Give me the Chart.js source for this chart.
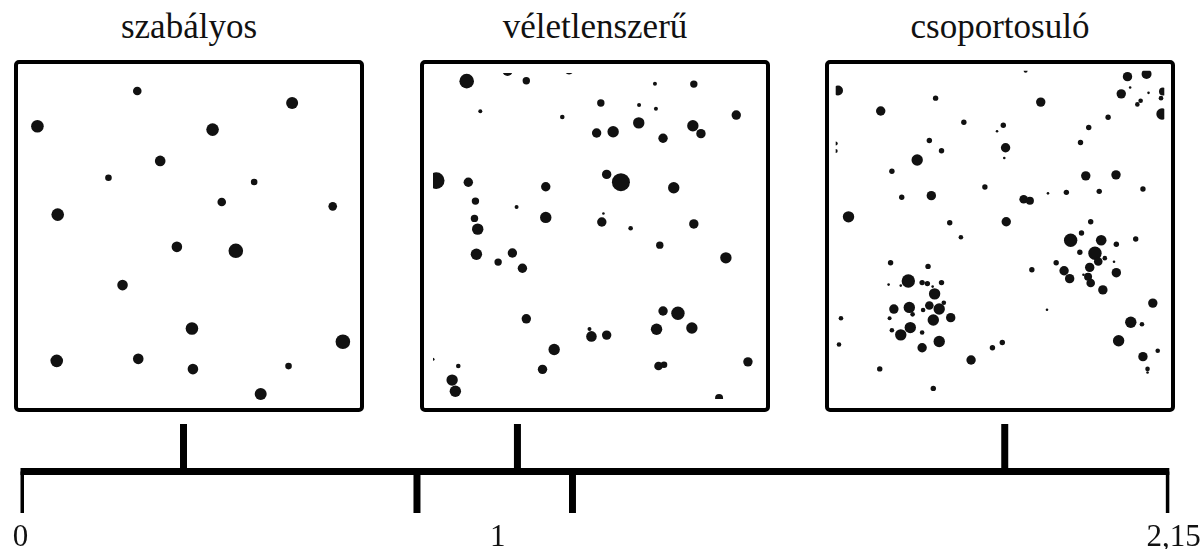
<!DOCTYPE html>
<html lang="hu">
<head>
    <meta charset="UTF-8">
    <meta name="viewport" content="width=device-width, initial-scale=1.0">
    <title>Pontmintázatok</title>
    <!-- Chart.js -->
    <script src="https://cdn.jsdelivr.net/npm/chart.js"></script>
    <style>
        body {
            margin: 0;
            background-color: #fff;
            width: 1203px;
            height: 549px;
            overflow: hidden;
            position: relative;
            font-family: "Liberation Serif", "Times New Roman", serif;
        }
        .title {
            position: absolute;
            top: 7px;
            width: 350px;
            text-align: center;
            font-size: 35px;
            color: #111;
        }
        .panel {
            position: absolute;
            top: 60px;
            width: 350px;
            height: 352px;
            border: 4px solid #000;
            border-radius: 5px;
            box-sizing: border-box;
        }
        #scaleBox {
            position: absolute;
            left: 0;
            top: 409px;
            width: 1203px;
            height: 154px;
        }
    </style>
</head>
<body>
    <div class="title" style="left:14px">szabályos</div>
    <div class="title" style="left:420px">véletlenszerű</div>
    <div class="title" style="left:825px">csoportosuló</div>

    <div class="panel" style="left:14px"><canvas id="regularChart"></canvas></div>
    <div class="panel" style="left:420px"><canvas id="randomChart"></canvas></div>
    <div class="panel" style="left:825px"><canvas id="clusterChart"></canvas></div>

    <div id="scaleBox"><canvas id="scaleChart"></canvas></div>

    <script>
        // Panel titles
        const panelTitles = ['szabályos', 'véletlenszerű', 'csoportosuló'];

        // Regular pattern (x, y in 0-100, r = dot radius)
        const regularX = [34.2, 81.5, 3.7, 57.2, 41.2, 25.4, 69.9, 60.0, 93.9, 9.9, 46.3, 64.3, 29.7, 50.9, 97.0, 9.6, 34.5, 51.2, 80.4, 71.9];
        const regularY = [94.0, 90.4, 83.3, 82.3, 72.8, 67.7, 66.4, 60.3, 59.0, 56.5, 46.7, 45.5, 35.1, 21.9, 17.9, 12.1, 12.7, 9.6, 10.5, 2.0];
        const regularR = [4.3, 6, 6.3, 6.3, 5.3, 3.3, 3.3, 4.3, 4.3, 6.3, 5.3, 7.3, 5.3, 6.3, 7.3, 6.3, 5.3, 5.3, 3.3, 6];

        // Random pattern
        const randomX = [10.4, 23.0, 28.8, 42.0, 68.5, 80.5, 14.6, 39.9, 51.8, 63.6, 68.8, 93.6, 63.5, 80.2, 50.5, 55.6, 71.0, 82.7, 1.0, 10.9,
                         53.6, 58.0, 74.3, 34.8, 13.1, 25.8, 12.8, 34.8, 52.6, 52.1, 61.0, 80.5, 13.8, 70.0, 13.4, 24.5, 20.1, 27.6, 90.4, 71.0,
                         75.6, 28.8, 48.3, 48.9, 53.6, 69.0, 79.9, 37.4, 7.8, 33.8, 69.6, 71.3, 97.2, 5.9, 6.9, 88.3, 0];
        const randomY = [97.5, 100.6, 97.6, 100.8, 96.7, 96.6, 88.3, 86.5, 90.8, 90.2, 89.0, 87.1, 84.7, 83.8, 81.6, 82.0, 80.0, 81.4, 67.0, 66.5,
                         68.9, 66.5, 64.8, 65.1, 60.7, 58.9, 55.4, 55.7, 56.9, 54.3, 52.4, 53.7, 52.1, 47.2, 44.4, 44.8, 42.0, 40.1, 43.3, 27.0,
                         26.3, 24.6, 21.5, 19.2, 19.6, 21.4, 21.8, 15.2, 10.1, 9.1, 10.1, 10.5, 11.4, 5.8, 2.4, 0.3, 12.2];
        const randomR = [7.3, 5, 3.7, 4, 2, 3.7, 2, 2.3, 3.7, 2, 2, 4.7, 5.7, 5.7, 4.7, 5.7, 4.7, 4.7, 8.3, 4.7,
                         4.7, 9, 5.7, 4.7, 3.7, 2, 3.7, 5.7, 1.3, 4.7, 2.3, 4.7, 5.7, 3.7, 5.7, 4.7, 3.7, 4.7, 5.7, 4.7,
                         6.7, 4.7, 2, 5.3, 4.7, 5.7, 5.7, 5.7, 2.3, 4.7, 4.3, 3.3, 4.7, 5.7, 5.7, 4, 1.5];

        // Clustered pattern
        const clusterX = [57.8, 88.8, 94.6, 0.7, 89.6, 95.2, 86.9, 99.6, 99.0, 92.8, 91.8, 99.3, 30.4, 62.4, 13.7, 82.9, 39.0, 51.0, 49.1, 77.0,
                          0, 0, 28.5, 32.2, 51.7, 74.5, 51.3, 24.8, 17.1, 76.1, 85.3, 45.4, 64.6, 70.2, 80.2, 93.5, 20.1, 29.1, 57.2, 59.1,
                          3.9, 51.9, 34.7, 77.6, 38.1, 74.8, 71.5, 80.8, 91.3, 85.4, 74.3, 78.9, 81.9, 79.9, 84.7, 67.1, 77.3, 69.5, 85.4, 59.7,
                          75.4, 76.8, 71.2, 77.6, 81.3, 16.7, 28.1, 22.1, 16.1, 19.8, 26.3, 27.9, 29.5, 32.2, 30.1, 32.9, 28.5, 22.4, 17.7, 26.6,
                          31.5, 23.4, 35.0, 16.4, 29.7, 22.7, 17.1, 26.3, 19.8, 31.5, 26.3, 1.6, 1.0, 64.3, 96.5, 89.8, 93.2, 86.1, 50.7, 47.7,
                          41.2, 93.5, 98.0, 13.4, 94.9, 94.9, 29.7];
        const clusterY = [100.0, 98.2, 99.0, 94.0, 94.9, 93.3, 93.0, 93.7, 91.7, 90.9, 89.8, 86.9, 91.7, 90.5, 87.8, 85.9, 84.4, 83.5, 81.7, 82.8,
                          78.0, 75.7, 78.9, 75.8, 76.7, 78.3, 73.6, 73.0, 69.6, 68.2, 68.5, 64.8, 62.9, 63.2, 63.5, 64.2, 61.7, 62.2, 61.1, 60.7,
                          55.8, 54.3, 54.0, 54.3, 49.6, 50.9, 48.7, 48.7, 49.1, 47.5, 45.1, 44.8, 43.3, 42.3, 42.2, 41.9, 40.5, 39.5, 38.9, 39.8,
                          38.3, 37.7, 37.1, 35.8, 33.7, 41.9, 40.8, 36.4, 35.3, 35.0, 35.9, 35.6, 34.7, 35.9, 32.5, 29.8, 29.0, 28.4, 27.9, 27.6,
                          27.9, 26.3, 25.3, 25.1, 24.6, 22.3, 21.5, 20.8, 20.1, 18.1, 16.2, 25.1, 17.2, 27.7, 29.7, 23.9, 23.3, 18.3, 17.8, 16.2,
                          12.5, 13.5, 15.3, 9.8, 9.8, 8.7, 3.9];
        const clusterR = [2, 4.7, 5, 5, 1.3, 1.3, 4.7, 4, 2.3, 2.3, 2.3, 5.7, 2.7, 4.7, 4.7, 2.7, 2.7, 2.7, 1.3, 2.7,
                          2, 2, 2.7, 2.7, 4.7, 2.7, 1.3, 5.7, 2.7, 4.7, 4.7, 2.7, 1.3, 2.7, 2.7, 2.7, 2.7, 4.7, 4.3, 4,
                          5.7, 4.7, 2.7, 2.7, 2.3, 2.7, 6.7, 5.3, 2.7, 2.7, 2.7, 6.7, 2.3, 4.3, 1.3, 2.7, 4.7, 4.7, 4.7, 2.7,
                          1.3, 4, 4.7, 4.3, 4.7, 2.7, 2.7, 6.7, 1.3, 1.3, 2.7, 2.7, 1.3, 2.7, 5.7, 2.3, 4.3, 5.7, 4.7, 2.3,
                          5.7, 2.3, 4.7, 2, 5.7, 5.7, 2.3, 2.3, 5.7, 5.7, 4.7, 2.3, 2.3, 1.3, 4.7, 5.7, 2.3, 5.7, 2.7, 2.7,
                          4.7, 4.7, 2.3, 2.7, 2.3, 1.3, 2.7];

        // Scale bar: axis range, tick marks, labels and panel pointers
        const scaleMax = 2.15;
        const tickValues = [0, 0.742, 1.033, 2.15];
        const labelValues = [0, 0.893, 2.158];
        const labelTexts = ['0', '1', '2,15'];
        const pointerValues = [0.305, 0.930, 1.842];
        const barLevel = -0.07;
        const tickBottom = -1;
        const pointerTop = 1;

        const dotColor = '#111';
        const lineColor = '#000';

        function toPoints(xs, ys, rs) {
            return xs.map((x, i) => ({ x: x, y: ys[i], r: rs[i] }));
        }

        // One square panel with its dots
        function makePanel(id, xs, ys, rs) {
            const ctx = document.getElementById(id).getContext('2d');
            return new Chart(ctx, {
                type: 'bubble',
                data: {
                    datasets: [{
                        data: toPoints(xs, ys, rs),
                        backgroundColor: dotColor,
                        borderWidth: 0,
                        hoverRadius: 0
                    }]
                },
                options: {
                    responsive: true,
                    maintainAspectRatio: false,
                    animation: false,
                    events: [],
                    layout: { padding: 0 },
                    scales: {
                        x: { type: 'linear', min: 0, max: 100, display: false },
                        y: { type: 'linear', min: 0, max: 100, display: false }
                    },
                    plugins: { legend: { display: false }, tooltip: { enabled: false } }
                }
            });
        }

        makePanel('regularChart', regularX, regularY, regularR);
        makePanel('randomChart', randomX, randomY, randomR);
        makePanel('clusterChart', clusterX, clusterY, clusterR);

        // Scale bar datasets
        const segment = (pts, cap) => ({
            data: pts,
            showLine: true,
            borderColor: lineColor,
            borderWidth: 7,
            borderCapStyle: cap,
            pointRadius: 0,
            fill: false
        });

        const scaleDatasets = [segment([{ x: 0, y: barLevel }, { x: scaleMax, y: barLevel }], 'square')];
        tickValues.forEach(t => scaleDatasets.push(segment([{ x: t, y: barLevel }, { x: t, y: tickBottom }], 'butt')));
        pointerValues.forEach(p => scaleDatasets.push(segment([{ x: p, y: pointerTop }, { x: p, y: barLevel }], 'butt')));

        new Chart(document.getElementById('scaleChart').getContext('2d'), {
            type: 'scatter',
            data: { datasets: scaleDatasets },
            options: {
                responsive: true,
                maintainAspectRatio: false,
                animation: false,
                events: [],
                layout: { padding: { left: 20.5, right: 33.5, top: 15, bottom: 0 } },
                scales: {
                    x: {
                        type: 'linear',
                        min: 0,
                        max: scaleMax,
                        grid: { display: false, drawTicks: false },
                        border: { display: false },
                        afterBuildTicks: (scale) => {
                            scale.ticks = labelValues.map(v => ({ value: v }));
                        },
                        ticks: {
                            autoSkip: false,
                            maxRotation: 0,
                            padding: 2.4,
                            color: '#111',
                            font: { family: '"Liberation Serif", "Times New Roman", serif', size: 31, lineHeight: 1.46 },
                            callback: (value, index) => labelTexts[index]
                        }
                    },
                    y: { type: 'linear', min: -1, max: 1, display: false }
                },
                plugins: { legend: { display: false }, tooltip: { enabled: false } }
            }
        });
    </script>
</body>
</html>
